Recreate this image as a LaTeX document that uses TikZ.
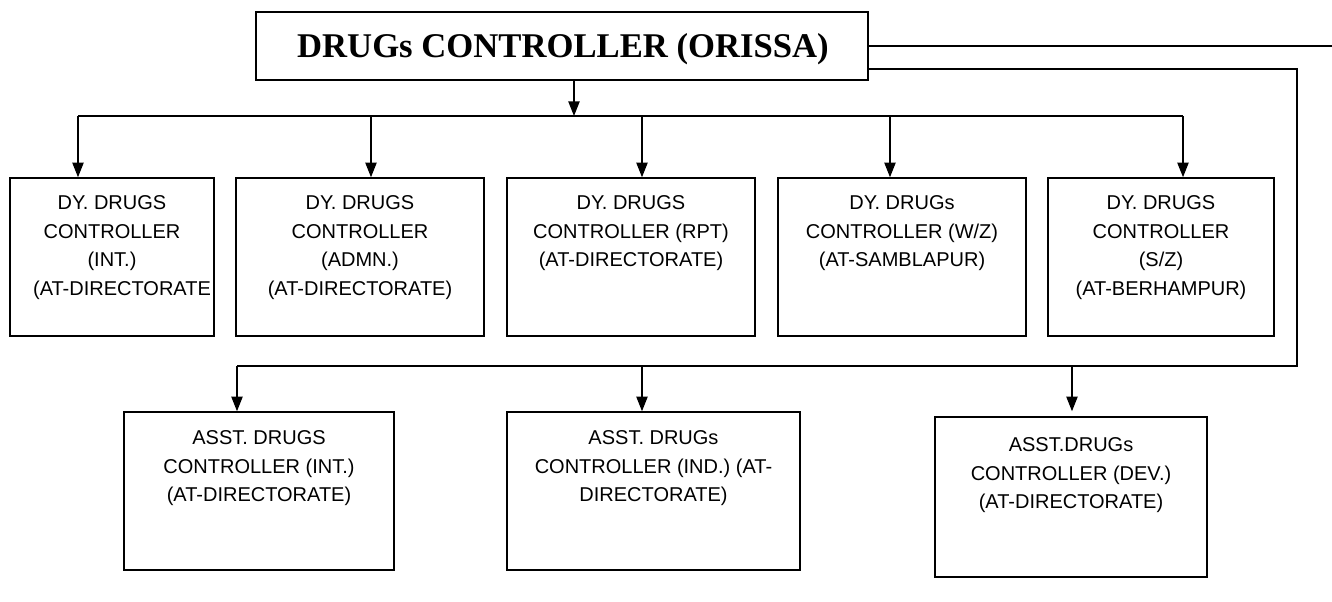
\documentclass[tikz,border=0pt]{standalone}
\usepackage{fontspec}
\setmainfont{Liberation Serif}
\newfontfamily\arialfont{Liberation Sans}
\usetikzlibrary{arrows.meta}

\tikzset{every picture/.style={line width=0.75pt}}
\tikzset{
  officebox/.style={draw, line width=1.2pt, inner sep=0pt},
  officetext/.style={anchor=north, inner sep=0pt, align=center, font=\arialfont\fontsize{15}{21.4}\selectfont},
  feed/.style={line width=1pt},
  drop/.style={line width=1pt, -{Triangle[length=11pt,width=8.5pt]}}
}

\begin{document}
\begin{tikzpicture}[x=0.75pt,y=0.75pt,yscale=-1,xscale=1]
\useasboundingbox (0,0) rectangle (1332,601);

%Shape: Rectangle [id:top]
\node [officebox, minimum width=459pt, minimum height=51pt] (top) at (562,46) {};
%Shape: Rectangle [id:dy boxes]
\node [officebox, minimum width=153pt, minimum height=118.5pt] (b1) at (112,257) {};
\node [officebox, minimum width=186pt, minimum height=118.5pt] (b2) at (360,257) {};
\node [officebox, minimum width=186pt, minimum height=118.5pt] (b3) at (631,257) {};
\node [officebox, minimum width=186pt, minimum height=118.5pt] (b4) at (902,257) {};
\node [officebox, minimum width=169.5pt, minimum height=118.5pt] (b5) at (1161,257) {};
%Shape: Rectangle [id:asst boxes]
\node [officebox, minimum width=202.5pt, minimum height=118.5pt] (a1) at (259,491) {};
\node [officebox, minimum width=219.75pt, minimum height=118.5pt] (a2) at (653.5,491) {};
\node [officebox, minimum width=204pt, minimum height=120pt] (a3) at (1071,497) {};

%Straight Lines [id:bus]
\coordinate (hub) at (574,116);
\coordinate (d1) at (78,116);
\coordinate (d2) at (371,116);
\coordinate (d3) at (642,116);
\coordinate (d4) at (890,116);
\coordinate (d5) at (1183,116);
\draw [drop] (top.south -| hub) -- (hub) ;
\draw [feed] (d1) -- (d5) ;
\draw [drop] (d1) -- (d1 |- b1.north) ;
\draw [drop] (d2) -- (d2 |- b2.north) ;
\draw [drop] (d3) -- (d3 |- b3.north) ;
\draw [drop] (d4) -- (d4 |- b4.north) ;
\draw [drop] (d5) -- (d5 |- b5.north) ;

%Straight Lines [id:right feeds]
\coordinate (edge) at (1332,46);
\coordinate (turn) at (1297,69);
\coordinate (c1) at (237,366);
\coordinate (c2) at (642,366);
\coordinate (c3) at (1072,366);
\draw [feed] (top.east) -- (edge) ;
\draw [feed] (top.east |- turn) -- (turn) -- (turn |- c1) -- (c1) ;
\draw [drop] (c1) -- (c1 |- a1.north) ;
\draw [drop] (c2) -- (c2 |- a2.north) ;
\draw [drop] (c3) -- (c3 |- a1.north) ;

% Text Node
\node [anchor=base, inner sep=0pt, font=\bfseries\fontsize{26}{30}\selectfont] (title) at (563,57) {DRUGs CONTROLLER (ORISSA)};
% Text Node
\node [officetext] (t1) at (112,195) {DY. DRUGS\\CONTROLLER\\(INT.)\\\hspace*{1em}(AT-DIRECTORATE};
% Text Node
\node [officetext] (t2) at (360,195) {DY. DRUGS\\CONTROLLER\\(ADMN.)\\(AT-DIRECTORATE)};
% Text Node
\node [officetext] (t3) at (631,195) {DY. DRUGS\\CONTROLLER (RPT)\\(AT-DIRECTORATE)};
% Text Node
\node [officetext] (t4) at (902,195) {DY. DRUGs\\CONTROLLER (W/Z)\\(AT-SAMBLAPUR)};
% Text Node
\node [officetext] (t5) at (1161,195) {DY. DRUGS\\CONTROLLER\\(S/Z)\\(AT-BERHAMPUR)};
% Text Node
\node [officetext] (u1) at (259,430) {ASST. DRUGS\\CONTROLLER (INT.)\\(AT-DIRECTORATE)};
% Text Node
\node [officetext] (u2) at (653.5,430) {ASST. DRUGs\\CONTROLLER (IND.) (AT-\\DIRECTORATE)};
% Text Node
\node [officetext] (u3) at (1071,437) {ASST.DRUGs\\CONTROLLER (DEV.)\\(AT-DIRECTORATE)};

\end{tikzpicture}
\end{document}
